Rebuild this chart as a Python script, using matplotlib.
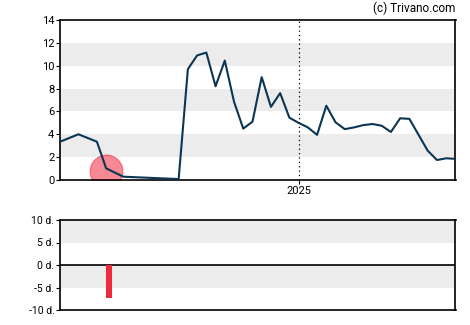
import matplotlib
matplotlib.use('Agg')
import matplotlib.pyplot as plt
import matplotlib.dates as mdates
import numpy as np
import pandas as pd

# ---- data ----
start = pd.Timestamp('2024-07-04')
day_offsets = [0, 14, 28, 35, 48, 90,
               97, 104, 111, 118, 125, 132, 139, 146, 153, 160, 167, 174, 181,
               188, 195, 202, 209, 216, 223, 230, 237, 244, 251, 258, 265, 272,
               279, 286, 293, 300]
values = [3.35, 4.0, 3.35, 1.02, 0.29, 0.08,
          9.7, 10.9, 11.15, 8.2, 10.45, 6.85, 4.5, 5.1, 9.0, 6.4, 7.6, 5.45, 5.0,
          4.6, 3.95, 6.5, 5.05, 4.45, 4.6, 4.8, 4.9, 4.75, 4.2, 5.4, 5.35, 3.95,
          2.55, 1.75, 1.9, 1.85]
dates = [start + pd.Timedelta(days=d) for d in day_offsets]

marker_date = start + pd.Timedelta(days=35)
marker_value = 0.75

bar_dates = [start + pd.Timedelta(days=35)]
bar_values = [-7.3]

year_line = pd.Timestamp('2025-01-01')

plt.rcParams['font.family'] = ['Roboto', 'DejaVu Sans']

fig = plt.figure(figsize=(4.7, 3.25), dpi=100)
ax = fig.add_axes([60 / 470, 1 - 180 / 325, 395.5 / 470, 160 / 325])
ax2 = fig.add_axes([60 / 470, 1 - 310 / 325, 395.5 / 470, 90 / 325])

band = '#ececec'
line_col = '#0b3553'

# top chart
for lo in (2, 6, 10):
    ax.axhspan(lo, lo + 2, color=band, lw=0, zorder=0)
ax.plot(dates, values, color=line_col, lw=1.5, zorder=3)
ax.scatter([marker_date], [marker_value], s=560, color='#f0283c', alpha=0.55,
           edgecolor='#e8283c', lw=0.8, zorder=2)
ax.axvline(year_line, color='black', lw=0.9, ls=(0, (1, 2.5)), zorder=1)
ax.set_xlim(dates[0], dates[-1])
ax.set_ylim(0, 14)
ax.set_yticks(range(0, 15, 2))
ax.set_xticks([year_line])
ax.xaxis.set_major_formatter(mdates.DateFormatter('%Y'))
ax.tick_params(labelsize=8, length=3, width=0.8, pad=1)
ax.text(1.0, 1.03, '(c) Trivano.com', transform=ax.transAxes, ha='right',
        va='bottom', fontsize=8.5)

# bottom chart
for lo in (5, -5):
    ax2.axhspan(lo, lo + 5, color=band, lw=0, zorder=0)
ax2.axhline(0, color='black', lw=1.2, zorder=2)
ax2.bar(bar_dates, bar_values, width=4.3, align='edge', color='#ee2a3c', zorder=3)
ax2.set_xlim(dates[0], dates[-1])
ax2.set_ylim(-10, 10)
ax2.set_yticks([-10, -5, 0, 5, 10])
ax2.set_yticklabels(['-10 d.', '-5 d.', '0 d.', '5 d.', '10 d.'])
ax2.set_xticks([])
ax2.tick_params(labelsize=7.5, length=3, width=0.8, pad=1)

for a in (ax, ax2):
    for s in a.spines.values():
        s.set_linewidth(1.2)

fig.savefig('out.png', dpi=100)
